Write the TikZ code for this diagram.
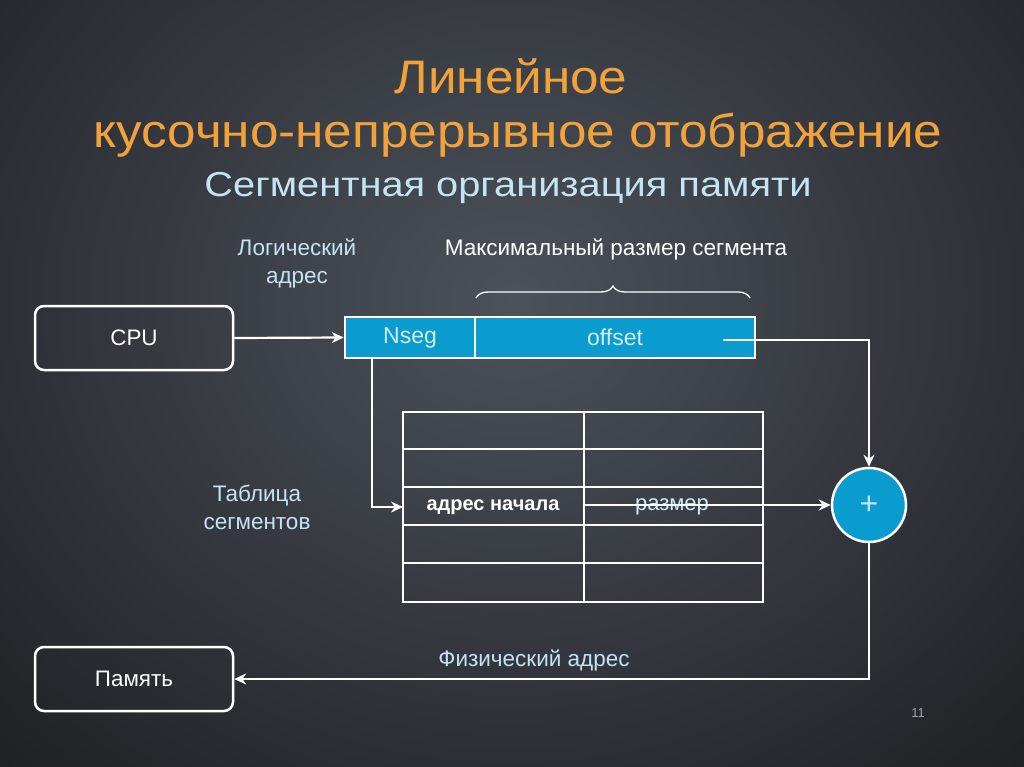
\documentclass[tikz,border=0pt]{standalone}
\usepackage{fontspec}
\setmainfont{Liberation Sans}
\newfontfamily\titlefont[FakeStretch=1.09]{Liberation Sans}
\newfontfamily\subtfont[FakeStretch=1.15]{Liberation Sans}
\usetikzlibrary{arrows.meta,decorations.pathreplacing}
\definecolor{bgtop}{HTML}{4C515A}
\definecolor{bgbot}{HTML}{18191C}
\definecolor{orng}{HTML}{F2A23A}
\definecolor{lblue}{HTML}{C4E4F4}
\definecolor{regblue}{HTML}{0A9BCF}
\definecolor{regtext}{HTML}{D3ECF7}
\definecolor{pgnum}{HTML}{A0A4AA}
\tikzset{
  wline/.style={draw=white,line width=2.2pt},
  conn/.style={draw=white,line width=2.2pt,-{Stealth[length=12pt,width=11pt]}},
  ioBox/.style={draw=white,line width=2.5pt,rounded corners=9pt,minimum width=198pt,minimum height=64pt,text=white,font=\fontsize{22.4}{26}\selectfont},
  regcell/.style={fill=regblue,draw=white,line width=2.5pt,minimum height=41pt,text=regtext,font=\fontsize{23}{26}\selectfont,inner sep=0pt},
  lbl/.style={text=lblue,font=\fontsize{22.5}{28}\selectfont,align=center},
}
\begin{document}
\begin{tikzpicture}[x=1pt,y=-1pt]
\useasboundingbox (0,0) rectangle (1024,767);
\begin{scope}
\clip (0,0) rectangle (1024,767);
\shade[inner color=bgtop,outer color=bgbot] (-350,-450) rectangle (1374,1050);
\end{scope}
% titles
\node[text=orng,font=\titlefont\fontsize{47}{50}\selectfont] (t1) at (511,76) {Линейное};
\node[text=orng,font=\titlefont\fontsize{47}{50}\selectfont] (t2) at (518,135) {кусочно-непрерывное отображение};
\node[text=lblue,font=\subtfont\fontsize{34.6}{40}\selectfont] (t3) at (508,188) {Сегментная организация памяти};
% labels
\node[lbl] (logaddr) at (297,263) {Логический\\адрес};
\node[text=white,font=\fontsize{22.5}{26}\selectfont] (maxsize) at (616,249) {Максимальный размер сегмента};
\node[lbl] (tablbl) at (257,507) {Таблица\\сегментов};
\node[lbl] (phys) at (534,660) {Физический адрес};
\node[text=pgnum,font=\fontsize{13}{15}\selectfont] (pg) at (918,713) {11};
% boxes
\node[ioBox] (cpu) at (134,338) {CPU};
\node[ioBox] (mem) at (134,679) {Память};
% register
\node[regcell,minimum width=130pt] (nseg) at (410,337.5) {Nseg};
\node[regcell,minimum width=280pt] (offset) at (615,337.5) {offset};
% brace
\draw[white,line width=1.3pt,decorate,decoration={brace,amplitude=12pt}] (476,298) -- (750,298);
% table
\draw[wline] (403,412) rectangle (763,602);
\draw[wline] (584,412) -- (584,602);
\foreach \yy in {449,487,525,563} \draw[wline] (403,\yy) -- (763,\yy);
\node[text=white,font=\bfseries\fontsize{20}{24}\selectfont] (start) at (493,507) {адрес начала};
\node[text=lblue!80!white,font=\fontsize{22}{24}\selectfont] (size) at (672,507) {размер};
% adder
\node[circle,fill=regblue,draw=white,line width=2.5pt,minimum size=74pt,text=lblue,font=\fontsize{32}{32}\selectfont,inner sep=0pt] (plus) at (869,505) {+};
% connectors
\draw[conn] (cpu.east) -- (nseg.west);
\coordinate (offend) at (723,340);
\draw[conn] (offend) -| (plus.north);
\coordinate (nsegbot) at (372,358);
\coordinate (rowin) at (403,507);
\draw[conn] (nsegbot) |- (rowin);
\coordinate (sizeout) at (584,505);
\draw[conn] (sizeout) -- (plus.west);
\draw[conn] (plus.south) |- (mem.east);
\end{tikzpicture}
\end{document}
